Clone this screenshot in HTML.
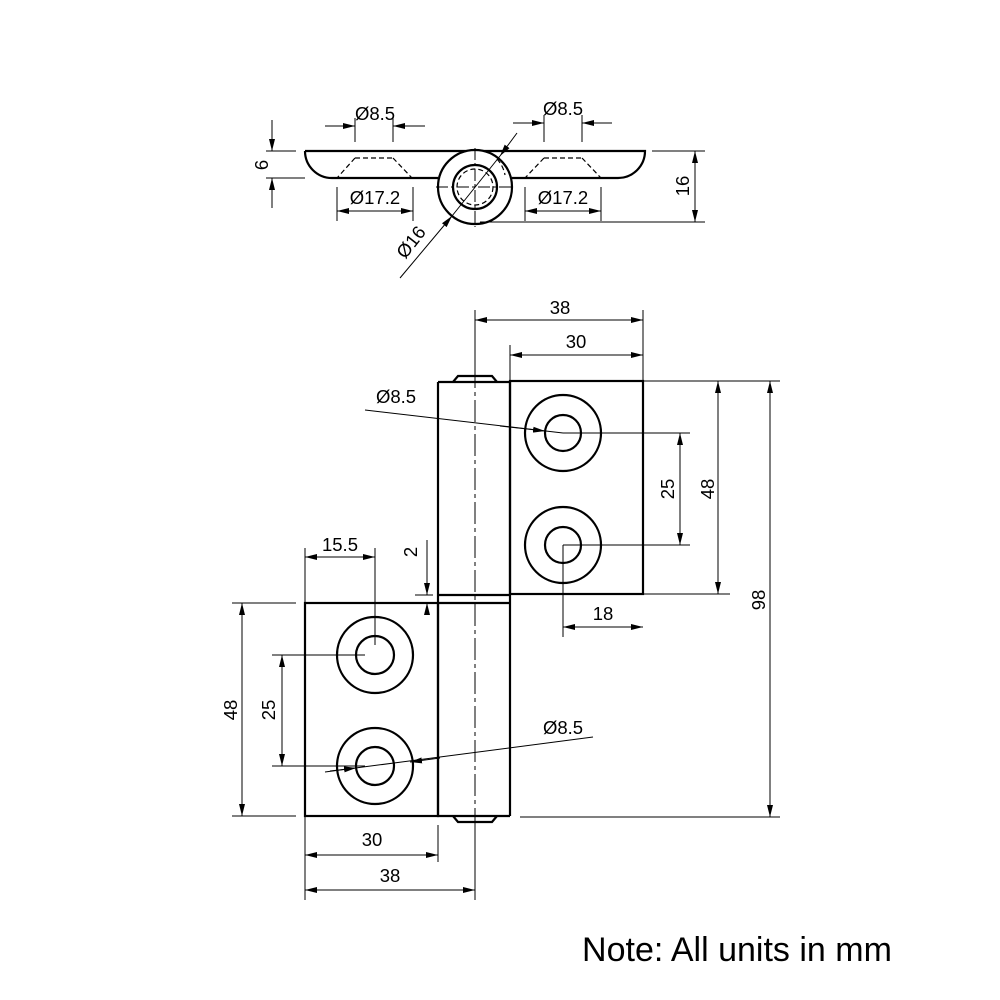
<!DOCTYPE html>
<html><head><meta charset="utf-8"><style>
html,body{margin:0;padding:0;background:#fff}
svg{display:block}
text{font-family:"Liberation Sans",sans-serif;font-size:18.5px;fill:#000}
</style></head><body>
<svg width="1000" height="1000" viewBox="0 0 1000 1000" xmlns="http://www.w3.org/2000/svg">
<defs>
<marker id="a" viewBox="0 0 12 6" refX="12" refY="3" markerWidth="12" markerHeight="6" markerUnits="userSpaceOnUse" orient="auto-start-reverse"><path d="M0,0L12,3L0,6z" fill="#000"/></marker>
</defs>
<g fill="none" stroke="#000">
<!-- TOP VIEW -->
<g stroke-width="2.2">
<path d="M305,151 H645 A27,27 0 0 1 618,178 H512"/>
<path d="M438,178 H332 A27,27 0 0 1 305,151"/>
<circle cx="475" cy="187" r="37" fill="#fff"/>
<circle cx="475" cy="187" r="22"/>
</g>
<g stroke-width="1.2" stroke-dasharray="5,3">
<circle cx="475" cy="187" r="18"/>
<path d="M355,158 H393 M355,158 L337,178 M393,158 L412,178 M544,158 H582 M544,158 L525,178 M582,158 L601,178"/>
<path d="M497,159 A32,32 0 0 1 505,175"/>
</g>
<g stroke-width="1">
<path d="M475,148 V227 M436,187 H514" stroke-dasharray="12,3,3,3"/>
<path d="M355,118 V142 M393,118 V142 M544,115 V142 M582,115 V142"/>
<path d="M325,126 H355" marker-end="url(#a)"/><path d="M425,126 H393" marker-end="url(#a)"/>
<path d="M513,123 H544" marker-end="url(#a)"/><path d="M612,123 H582" marker-end="url(#a)"/>
<path d="M337,187 V221 M413,187 V221 M525,187 V221 M601,187 V221"/>
<path d="M337,211 H413" marker-start="url(#a)" marker-end="url(#a)"/>
<path d="M525,211 H601" marker-start="url(#a)" marker-end="url(#a)"/>
<path d="M266,151 H296 M266,178 H305"/>
<path d="M272,120 V151" marker-end="url(#a)"/><path d="M272,208 V178" marker-end="url(#a)"/>
<path d="M652,151 H705 M480,222 H705"/>
<path d="M695,151 V222" marker-start="url(#a)" marker-end="url(#a)"/>
<path d="M517,133 L500,156" marker-end="url(#a)"/>
<path d="M400,278 L452,216" marker-end="url(#a)"/>
<path d="M452,216 L500,156"/>
</g>
<!-- MAIN VIEW -->
<g stroke-width="2.2">
<rect x="510" y="381" width="133" height="213"/>
<rect x="305" y="603" width="133" height="213"/>
<path d="M438,382 H510 M438,382 V816 H510 M438,595 H510 M438,603 H510 M510,382 V816"/>
<path d="M453,382 L458,376 H492 L497,382 M453,816 L458,822 H492 L497,816"/>
<circle cx="563" cy="433" r="38"/><circle cx="563" cy="433" r="18"/>
<circle cx="563" cy="545" r="38"/><circle cx="563" cy="545" r="18"/>
<circle cx="375" cy="655" r="38"/><circle cx="375" cy="655" r="19"/>
<circle cx="375" cy="766" r="38"/><circle cx="375" cy="766" r="19"/>
</g>
<g stroke-width="1">
<path d="M475,366 V830" stroke-dasharray="22,4,4,4"/>
<path d="M475,310 V366 M643,310 V381 M510,345 V381"/>
<path d="M475,320 H643" marker-start="url(#a)" marker-end="url(#a)"/>
<path d="M510,355 H643" marker-start="url(#a)" marker-end="url(#a)"/>
<path d="M643,381 H780 M643,594 H730 M520,817 H780 M563,433 H690 M563,545 H690"/>
<path d="M718,381 V594" marker-start="url(#a)" marker-end="url(#a)"/>
<path d="M770,381 V817" marker-start="url(#a)" marker-end="url(#a)"/>
<path d="M680,433 V545" marker-start="url(#a)" marker-end="url(#a)"/>
<path d="M563,545 V637"/>
<path d="M563,627 H643" marker-start="url(#a)" marker-end="url(#a)"/>
<path d="M365,410 L563,433"/><path d="M500,426 L545,431" marker-end="url(#a)"/>
<path d="M305,548 V603 M375,548 V645"/>
<path d="M305,557 H375" marker-start="url(#a)" marker-end="url(#a)"/>
<path d="M427,540 V595" marker-end="url(#a)"/><path d="M427,614 V603" marker-end="url(#a)"/>
<path d="M415,595 H433 M415,603 H433"/>
<path d="M232,603 H296 M232,816 H296 M272,655 H365 M272,766 H365"/>
<path d="M242,603 V816" marker-start="url(#a)" marker-end="url(#a)"/>
<path d="M282,655 V766" marker-start="url(#a)" marker-end="url(#a)"/>
<path d="M325,772 L593,737"/>
<path d="M330,771 L356,768" marker-end="url(#a)"/>
<path d="M440,758 L410,762" marker-end="url(#a)"/>
<path d="M305,816 V900 M438,825 V862 M475,830 V900"/>
<path d="M305,855 H438" marker-start="url(#a)" marker-end="url(#a)"/>
<path d="M305,890 H475" marker-start="url(#a)" marker-end="url(#a)"/>
</g>
</g>
<g text-anchor="middle">
<text x="375" y="120">Ø8.5</text>
<text x="563" y="115">Ø8.5</text>
<text x="375" y="204">Ø17.2</text>
<text x="563" y="204">Ø17.2</text>
<text transform="translate(268,165) rotate(-90)">6</text>
<text transform="translate(689,186) rotate(-90)">16</text>
<text transform="translate(416,246) rotate(-52)">Ø16</text>
<text x="560" y="314">38</text>
<text x="576" y="348">30</text>
<text x="396" y="403">Ø8.5</text>
<text transform="translate(674,489) rotate(-90)">25</text>
<text transform="translate(714,489) rotate(-90)">48</text>
<text transform="translate(765,600) rotate(-90)">98</text>
<text x="603" y="620">18</text>
<text x="340" y="551">15.5</text>
<text transform="translate(417,552) rotate(-90)">2</text>
<text transform="translate(237,710) rotate(-90)">48</text>
<text transform="translate(275,710) rotate(-90)">25</text>
<text x="563" y="734">Ø8.5</text>
<text x="372" y="846">30</text>
<text x="390" y="882">38</text>
</g>
<text x="737" y="961" text-anchor="middle" style="font-size:34px">Note: All units in mm</text>
</svg>
</body></html>
